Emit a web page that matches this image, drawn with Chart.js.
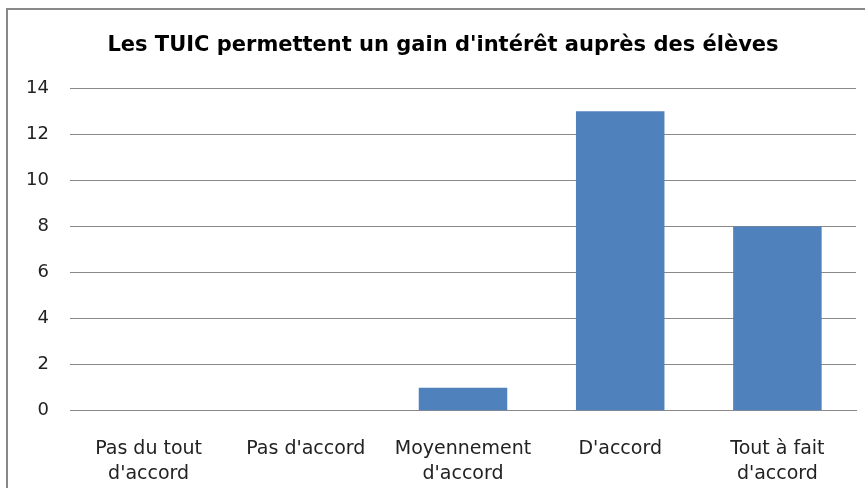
<!DOCTYPE html>
<html>
<head>
<meta charset="utf-8">
<script src="https://cdn.jsdelivr.net/npm/chart.js@4"></script>
<style>
  body { margin: 0; background: #fff; overflow: hidden; }
  #wrap { position: relative; width: 865px; height: 488px; }
  #frame { position: absolute; left: 6px; top: 8px; width: 900px; height: 600px; border: 2px solid #898989; box-sizing: border-box; }
  canvas { position: absolute; left: 0; top: 0; }
</style>
</head>
<body>
<div id="wrap">
  <div id="frame"></div>
  <canvas id="chart" width="865" height="488"></canvas>
</div>
<script>
const chartTitle = "Les TUIC permettent un gain d'intérêt auprès des élèves";
const categories = [
    ['Pas du tout', "d'accord"],
    "Pas d'accord",
    ['Moyennement', "d'accord"],
    "D'accord",
    ['Tout à fait', "d'accord"]
];
const values = [0, 0, 1, 13, 8];
const yTicks = [0, 2, 4, 6, 8, 10, 12, 14];

const fontFamily = "'DejaVu Sans', 'Liberation Sans', sans-serif";

// the title sits a little right of the chart centre
const shiftTitle = {
    id: 'shiftTitle',
    afterLayout: function(chart) {
        if (chart.titleBlock) {
            chart.titleBlock.left += 22;
        }
    }
};

document.addEventListener("DOMContentLoaded", function() {
    const ctx = document.getElementById('chart').getContext('2d');
    new Chart(ctx, {
        type: 'bar',
        data: {
            labels: categories,
            datasets: [{
                data: values,
                backgroundColor: '#4F81BD',
                borderWidth: 0,
                barPercentage: 0.563,
                categoryPercentage: 1
            }]
        },
        options: {
            responsive: false,
            animation: false,
            layout: { padding: { left: 8, right: 9, top: 0, bottom: 0 } },
            plugins: {
                legend: { display: false },
                tooltip: { enabled: false },
                title: {
                    display: true,
                    text: chartTitle,
                    color: '#000',
                    font: { family: fontFamily, size: 21, weight: 'bold', lineHeight: 1.2 },
                    padding: { top: 33, bottom: 30.1 }
                }
            },
            scales: {
                x: {
                    grid: { display: false },
                    border: { display: true, color: '#898989', width: 1 },
                    ticks: {
                        color: '#222',
                        padding: 18,
                        maxRotation: 0,
                        autoSkip: false,
                        font: { family: fontFamily, size: 19, lineHeight: 1.32 }
                    },
                    afterFit: function(scale) { scale.height = 77.3; }
                },
                y: {
                    min: 0,
                    max: 14,
                    afterBuildTicks: function(scale) {
                        scale.ticks = yTicks.map(v => ({ value: v }));
                    },
                    grid: { color: '#898989', drawTicks: false },
                    border: { display: false },
                    ticks: {
                        color: '#222',
                        padding: 21,
                        font: { family: fontFamily, size: 18 }
                    },
                    afterFit: function(scale) { scale.width = 62; }
                }
            }
        },
        plugins: [shiftTitle]
    });
});
</script>
</body>
</html>
